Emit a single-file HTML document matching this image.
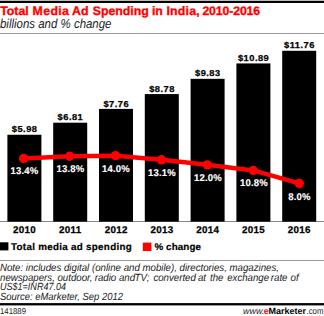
<!DOCTYPE html>
<html><head><meta charset="utf-8">
<style>
html,body{margin:0;padding:0;background:#fff;width:324px;height:316px;overflow:hidden}
svg{display:block}
text{font-family:"Liberation Sans",sans-serif;text-rendering:geometricPrecision}
</style></head><body>
<svg width="324" height="316" viewBox="0 0 324 316">
<rect x="0" y="0" width="324" height="1" fill="#bbb"/>
<rect x="0" y="1" width="324" height="2" fill="#000"/>
<g font-size="12.3" font-weight="bold" fill="#ff0000" stroke="#ff0000" stroke-width="0.35">
<text y="15.0"><tspan x="0.26">Total</tspan><tspan x="32.5" letter-spacing="0.4">Media</tspan><tspan x="72.0">Ad</tspan><tspan x="92.75">Spending</tspan><tspan x="151.9">in</tspan><tspan x="166.4" letter-spacing="0.25">India,</tspan><tspan x="202.4" letter-spacing="-0.13">2010-2016</tspan></text>
</g>
<text x="0" y="28.2" font-size="13" font-style="italic" fill="#222" textLength="111.5" lengthAdjust="spacingAndGlyphs">billions and % change</text>
<rect x="0" y="33" width="324" height="1" fill="#999"/>
<rect x="0" y="221" width="324" height="1" fill="#888"/>
<g fill="#000">
<rect x="7.40" y="134.76" width="34" height="86.89"/>
<rect x="53.20" y="122.70" width="34" height="98.95"/>
<rect x="99.00" y="108.90" width="34" height="112.75"/>
<rect x="144.80" y="94.08" width="34" height="127.57"/>
<rect x="190.60" y="78.82" width="34" height="142.83"/>
<rect x="236.40" y="63.42" width="34" height="158.23"/>
<rect x="282.20" y="50.78" width="34" height="170.87"/>
</g>
<g font-size="8.6" font-weight="bold" fill="#000" text-anchor="middle" stroke="#000" stroke-width="0.25">
<text transform="translate(24.62,132.41) scale(1.08,1)" letter-spacing="0.45">$5.98</text>
<text transform="translate(70.42,120.35) scale(1.08,1)" letter-spacing="0.45">$6.81</text>
<text transform="translate(116.22,106.55) scale(1.08,1)" letter-spacing="0.45">$7.76</text>
<text transform="translate(162.02,91.73) scale(1.08,1)" letter-spacing="0.45">$8.78</text>
<text transform="translate(207.82,76.47) scale(1.08,1)" letter-spacing="0.45">$9.83</text>
<text transform="translate(253.62,61.07) scale(1.08,1)" letter-spacing="0.45">$10.89</text>
<text transform="translate(299.42,48.43) scale(1.08,1)" letter-spacing="0.45">$11.76</text>
</g>
<polyline fill="none" stroke="#ff0000" stroke-width="4.5" stroke-linejoin="round" points="23.70,158.45 69.62,156.30 115.55,155.65 161.47,159.82 207.40,164.85 253.32,170.45 299.25,183.44"/>
<g fill="#ff0000">
<circle cx="23.70" cy="158.45" r="4.7"/>
<circle cx="69.62" cy="156.30" r="4.7"/>
<circle cx="115.55" cy="155.65" r="4.7"/>
<circle cx="161.47" cy="159.82" r="4.7"/>
<circle cx="207.40" cy="164.85" r="4.7"/>
<circle cx="253.32" cy="170.45" r="4.7"/>
<circle cx="299.25" cy="183.44" r="4.7"/>
</g>
<g font-size="9.8" font-weight="bold" fill="#fff" text-anchor="middle" stroke="#fff" stroke-width="0.15">
<text transform="translate(24.40,174.20) scale(0.97,1)" letter-spacing="0.2">13.4%</text>
<text transform="translate(70.40,172.10) scale(0.97,1)" letter-spacing="0.2">13.8%</text>
<text transform="translate(115.90,171.70) scale(0.97,1)" letter-spacing="0.2">14.0%</text>
<text transform="translate(161.90,176.00) scale(0.97,1)" letter-spacing="0.2">13.1%</text>
<text transform="translate(207.90,180.60) scale(0.97,1)" letter-spacing="0.2">12.0%</text>
<text transform="translate(253.90,186.40) scale(0.97,1)" letter-spacing="0.2">10.8%</text>
<text transform="translate(299.40,199.80) scale(0.97,1)" letter-spacing="0.2">8.0%</text>
</g>
<g font-size="9.8" font-weight="bold" fill="#000" text-anchor="middle" stroke="#000" stroke-width="0.25">
<text transform="translate(24.55,233.1) scale(1.0,1)" letter-spacing="0.3">2010</text>
<text transform="translate(70.35,233.1) scale(1.0,1)" letter-spacing="0.3">2011</text>
<text transform="translate(116.15,233.1) scale(1.0,1)" letter-spacing="0.3">2012</text>
<text transform="translate(161.95,233.1) scale(1.0,1)" letter-spacing="0.3">2013</text>
<text transform="translate(207.75,233.1) scale(1.0,1)" letter-spacing="0.3">2014</text>
<text transform="translate(253.55,233.1) scale(1.0,1)" letter-spacing="0.3">2015</text>
<text transform="translate(299.35,233.1) scale(1.0,1)" letter-spacing="0.3">2016</text>
</g>
<rect x="0" y="242.3" width="8.4" height="8.1" fill="#000"/>
<g font-size="9.8" font-weight="bold" fill="#000" stroke="#000" stroke-width="0.2" letter-spacing="0.3">
<text x="11" y="250.3">Total media ad spending</text>
<text x="154.4" y="250.3" letter-spacing="0.12">% change</text>
</g>
<rect x="142.8" y="242.6" width="8.6" height="8.4" fill="#ff0000"/>
<rect x="0" y="260" width="324" height="1" fill="#999"/>
<g font-size="10.4" font-style="italic" fill="#222">
<text x="0" y="270.5" textLength="279" lengthAdjust="spacingAndGlyphs">Note: includes digital (online and mobile), directories, magazines,</text>
<text transform="translate(0,280.6) scale(0.9305,1)"><tspan x="0.00">newspapers,</tspan><tspan x="61.79">outdoor,</tspan><tspan x="101.77">radio</tspan><tspan x="127.89">and</tspan><tspan x="144.55">TV;</tspan><tspan x="164.86">converted</tspan><tspan x="212.68">at</tspan><tspan x="225.69">the</tspan><tspan x="244.17">exchange</tspan><tspan x="291.03">rate</tspan><tspan x="312.31">of</tspan></text>
<text x="0" y="289.9" textLength="66" lengthAdjust="spacingAndGlyphs">US$1=INR47.04</text>
<text x="0" y="299.5" textLength="123" lengthAdjust="spacingAndGlyphs">Source: eMarketer, Sep 2012</text>
</g>
<rect x="0" y="303.1" width="324" height="2.3" fill="#000"/>
<text x="0" y="313.6" font-size="8.5" fill="#222" textLength="26" lengthAdjust="spacingAndGlyphs" >141889</text>
<text y="313.8" font-size="9" fill="#222"><tspan x="243" font-style="italic">www.</tspan><tspan x="263.8" font-weight="bold" fill="#ff0000">e</tspan><tspan x="268.6" font-weight="bold" fill="#000">Marketer</tspan><tspan x="306.5" font-size="8.9" textLength="17" lengthAdjust="spacingAndGlyphs">.com</tspan></text>
</svg>
</body></html>
